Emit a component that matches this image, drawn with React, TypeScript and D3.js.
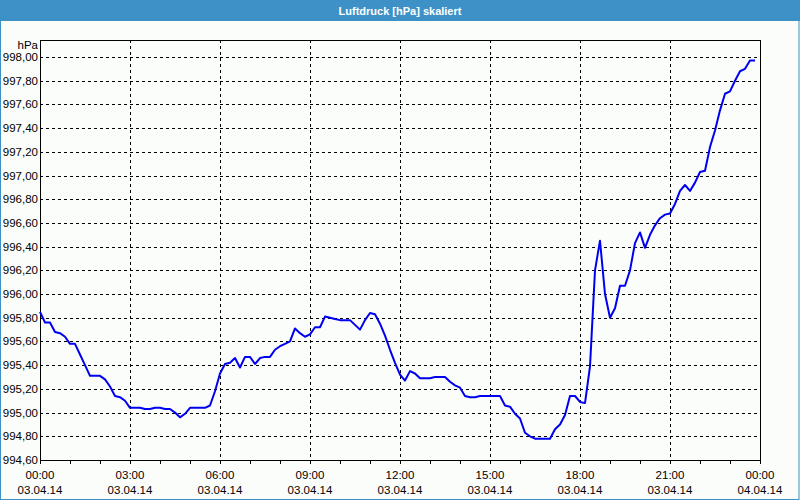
import React, { useEffect, useRef } from "react";
import * as d3 from "d3";

const TITLE = "Luftdruck [hPa] skaliert";
const UNIT = "hPa";

// 10-minute readings from 03.04.14 00:00 to 23:50
const pressure: number[] = [
  995.85, 995.76, 995.76, 995.68, 995.67, 995.64, 995.58, 995.58, 995.49, 995.40,
  995.31, 995.31, 995.31, 995.28, 995.22, 995.14, 995.13, 995.10, 995.04, 995.04,
  995.04, 995.03, 995.03, 995.04, 995.04, 995.03, 995.03, 995.00, 994.96, 994.99,
  995.04, 995.04, 995.04, 995.04, 995.06, 995.18, 995.33, 995.41, 995.42, 995.46,
  995.38, 995.47, 995.47, 995.41, 995.46, 995.47, 995.47, 995.53, 995.56, 995.58,
  995.60, 995.71, 995.67, 995.64, 995.66, 995.72, 995.72, 995.81, 995.80, 995.79,
  995.78, 995.78, 995.78, 995.74, 995.70, 995.78, 995.84, 995.83, 995.75, 995.65,
  995.53, 995.42, 995.32, 995.27, 995.35, 995.33, 995.29, 995.29, 995.29, 995.30,
  995.30, 995.30, 995.26, 995.23, 995.21, 995.14, 995.13, 995.13, 995.14, 995.14,
  995.14, 995.14, 995.14, 995.06, 995.05, 994.99, 994.95, 994.83, 994.80, 994.78,
  994.78, 994.78, 994.78, 994.86, 994.90, 994.98, 995.14, 995.14, 995.09, 995.08,
  995.39, 996.20, 996.45, 996.00, 995.80, 995.88, 996.07, 996.07, 996.20, 996.43,
  996.52, 996.39, 996.50, 996.58, 996.64, 996.67, 996.68, 996.76, 996.87, 996.92,
  996.87, 996.94, 997.03, 997.04, 997.24, 997.38, 997.55, 997.69, 997.71, 997.80,
  997.88, 997.90, 997.97, 997.97,
];
const STEP_MINUTES = 10;

const yTicks: number[] = [994.6, 994.8, 995.0, 995.2, 995.4, 995.6, 995.8, 996.0, 996.2, 996.4, 996.6, 996.8, 997.0, 997.2, 997.4, 997.6, 997.8, 998.0];
const xTickHours: number[] = [0, 3, 6, 9, 12, 15, 18, 21, 24];
const xTimeLabels: string[] = ["00:00", "03:00", "06:00", "09:00", "12:00", "15:00", "18:00", "21:00", "00:00"];
const xDateLabels: string[] = ["03.04.14", "03.04.14", "03.04.14", "03.04.14", "03.04.14", "03.04.14", "03.04.14", "03.04.14", "04.04.14"];
const minorTickHours: number[] = d3.range(0, 25, 1);

const W = 800, H = 500;
const L = 40, R = 760, T = 40, B = 460;

export default function App() {
  const ref = useRef<SVGSVGElement>(null);
  useEffect(() => {
    const svg = d3.select(ref.current);
    svg.selectAll("*").remove();
    const font = "'Liberation Sans', Arial, sans-serif";

    const x = d3.scaleLinear().domain([0, 24]).range([L, R]);
    const pxPerUnit = (B - 57) / (998.0 - 994.6);
    const yTop = 998.0 + (57 - T) / pxPerUnit;
    const y = d3.scaleLinear().domain([994.6, yTop]).range([B, T]);

    svg.append("rect").attr("x", 0).attr("y", 0).attr("width", W).attr("height", H).attr("fill", "#fbfdfb");
    svg.append("rect").attr("x", 0).attr("y", 0).attr("width", W).attr("height", 21).attr("fill", "#3d91c6");
    svg.append("rect").attr("x", 0.5).attr("y", 0.5).attr("width", W - 1.5).attr("height", H - 1).attr("fill", "none").attr("stroke", "#3d91c6").attr("stroke-width", 1);
    svg.append("text").attr("x", W / 2).attr("y", 15).attr("text-anchor", "middle")
      .attr("fill", "#ffffff").attr("font-family", font).attr("font-size", 11).attr("font-weight", "bold").text(TITLE);

    // grid
    const g = svg.append("g");
    yTicks.filter(v => v > 994.61).forEach(v => {
      const yy = Math.round(y(v)) + 0.5;
      g.append("line").attr("x1", L).attr("x2", R).attr("y1", yy).attr("y2", yy)
        .attr("stroke", "#000").attr("stroke-width", 1).attr("stroke-dasharray", "3,3");
    });
    xTickHours.filter(h => h > 0 && h < 24).forEach(h => {
      const xx = Math.round(x(h)) + 0.5;
      g.append("line").attr("x1", xx).attr("x2", xx).attr("y1", T).attr("y2", B)
        .attr("stroke", "#000").attr("stroke-width", 1).attr("stroke-dasharray", "3,3");
    });

    // minor ticks
    minorTickHours.forEach(h => {
      const xx = Math.round(x(h)) + 0.5;
      g.append("line").attr("x1", xx).attr("x2", xx).attr("y1", B).attr("y2", B + 4).attr("stroke", "#000");
    });

    // box
    svg.append("rect").attr("x", L + 0.5).attr("y", T + 0.5).attr("width", R - L).attr("height", B - T)
      .attr("fill", "none").attr("stroke", "#000").attr("stroke-width", 1);

    // line
    const line = d3.line<number>()
      .x((_, i) => x((i * STEP_MINUTES) / 60))
      .y(d => y(d));
    svg.append("path").datum(pressure).attr("d", line).attr("fill", "none")
      .attr("stroke", "#0000f0").attr("stroke-width", 2).attr("stroke-linejoin", "round");

    // y labels
    const fmt = (v: number) => v.toFixed(2).replace(".", ",");
    yTicks.forEach(v => {
      svg.append("text").attr("x", 38).attr("y", y(v) + 4).attr("text-anchor", "end")
        .attr("font-family", font).attr("font-size", 11.5).attr("fill", "#000").text(fmt(v));
    });
    svg.append("text").attr("x", 38).attr("y", 49).attr("text-anchor", "end")
      .attr("font-family", font).attr("font-size", 11.5).attr("fill", "#000").text(UNIT);

    // x labels
    xTickHours.forEach((h, i) => {
      svg.append("text").attr("x", x(h)).attr("y", 479).attr("text-anchor", "middle")
        .attr("font-family", font).attr("font-size", 11.5).attr("fill", "#000").text(xTimeLabels[i]);
      svg.append("text").attr("x", x(h)).attr("y", 494).attr("text-anchor", "middle")
        .attr("font-family", font).attr("font-size", 11.5).attr("fill", "#000").text(xDateLabels[i]);
    });
  }, []);
  return <svg ref={ref} width={W} height={H} style={{ position: "absolute", left: 0, top: 0, display: "block" }} />;
}
